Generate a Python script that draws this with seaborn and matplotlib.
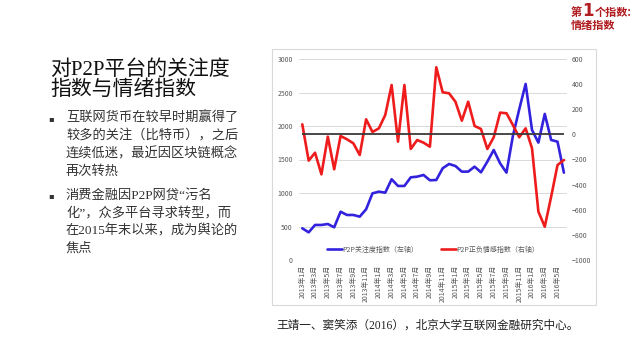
import numpy as np
import pandas as pd
import matplotlib.pyplot as plt
import seaborn as sns
from matplotlib.patches import Rectangle

# P2P attention index (left axis) and sentiment index (right axis), 2013/1 - 2016/6
years = [2013, 2014, 2015, 2016]
month_labels = [f"{y}年{m}月" for y in years for m in range(1, 13)][:42]

attention = [473, 413, 523, 523, 537, 488, 721, 672, 672, 647, 757, 995, 1020, 1005,
             1205, 1105, 1105, 1234, 1244, 1269, 1190, 1194, 1369, 1433, 1403, 1319,
             1319, 1393, 1309, 1468, 1642, 1443, 1304, 1850, 2250, 2628, 1941, 1752,
             2180, 1792, 1766, 1304]
sentiment = [80, -209, -146, -318, -18, -278, -13, -39, -71, -164, 120, 19, 48, 154,
             393, -58, 393, -116, -45, -66, -98, 534, 335, 327, 260, 109, 260, 67,
             43, -116, -23, 173, 168, 75, -23, 48, -111, -615, -735, -496, -244, -204]

left_ticks = [0, 500, 1000, 1500, 2000, 2500, 3000]
right_ticks = [-1000, -800, -600, -400, -200, 0, 200, 400, 600]

title_lines = ["对P2P平台的关注度", "指数与情绪指数"]
bullet1 = ["互联网货币在较早时期赢得了", "较多的关注（比特币），之后",
           "连续低迷，最近因区块链概念", "再次转热"]
bullet2 = ["消费金融因P2P网贷“污名", "化”，众多平台寻求转型，而",
           "在2015年末以来，成为舆论的", "焦点"]
source = "王靖一、窦笑添（2016），北京大学互联网金融研究中心。"
legend_labels = ["P2P关注度指数（左轴）", "P2P正负情感指数（右轴）"]

df = pd.DataFrame({"idx": np.arange(len(attention)), "attention": attention,
                   "sentiment": sentiment})

sns.set_theme(style="white")
plt.rcParams['font.family'] = ['Noto Sans CJK SC', 'DejaVu Sans']
serif = ['Liberation Serif', 'Noto Sans CJK SC']

W, H = 640, 357
fig = plt.figure(figsize=(6.4, 3.57), dpi=100)
fig.patch.set_facecolor('white')


def px(x, y):
    return x / W, 1 - y / H


# chart panel, kept behind the axes
fig.patches.append(Rectangle(px(272, 305), 324 / W, 256 / H, transform=fig.transFigure,
                             fc='white', ec='#d9d9d9', lw=0.8, zorder=-5))

ax1 = fig.add_axes([299.1 / W, 1 - 260 / H, 268 / W, 201 / H])
ax1.set_facecolor('none')
ax2 = ax1.twinx()
ax2.set_facecolor('none')

blue = '#3322dd'
red = '#ee1c1c'

sns.lineplot(data=df, x='idx', y='attention', ax=ax1, color=blue, lw=1.9,
             label=legend_labels[0], legend=False)
sns.lineplot(data=df, x='idx', y='sentiment', ax=ax2, color=red, lw=1.9,
             label=legend_labels[1], legend=False)
ax2.hlines(0, df['idx'].min(), df['idx'].max(), color='#3a3a3a', lw=1.3, zorder=3)

ax1.set_xlim(-0.5, len(attention) - 0.5)
ax1.set_ylim(0, 3000)
ax2.set_ylim(-1000, 600)
ax1.set_yticks(left_ticks)
ax2.set_yticks(right_ticks)
ax1.set_xticks(df['idx'][::2])
ax1.set_xticklabels(month_labels[::2], rotation=90, fontsize=5, color='#595959')
ax1.set_xlabel('')
ax1.set_ylabel('')
ax2.set_ylabel('')
ax1.tick_params(axis='y', labelsize=5, colors='#595959', length=0, pad=4.5)
ax2.tick_params(axis='y', labelsize=5, colors='#595959', length=0, pad=3.3)
ax1.tick_params(axis='x', length=0, pad=3.5)
ax1.yaxis.grid(True, color='#d9d9d9', lw=0.7)
ax1.xaxis.grid(False)
ax2.grid(False)
for ax in (ax1, ax2):
    for s in ax.spines.values():
        s.set_visible(False)

handles = ax1.get_lines()[:1] + ax2.get_lines()[:1]
ax2.legend(handles, legend_labels, loc='center', bbox_to_anchor=(0.5, 0.052), ncol=2,
           frameon=False, fontsize=5, handlelength=2.2, handletextpad=0.05,
           columnspacing=3.2, labelcolor='#595959')

# slide text
fig.text(*px(50, 70), title_lines[0], fontsize=15, family=serif, va='center', color='#111111')
fig.text(*px(50, 90), title_lines[1], fontsize=15, family=serif, va='center', color='#111111')

for lines, y0 in ((bullet1, 118.3), (bullet2, 195.5)):
    fig.text(*px(48, y0), '▪', fontsize=6, family='DejaVu Sans', va='center', color='#333333')
    for k, line in enumerate(lines):
        fig.text(*px(66, y0 + 17.8 * k), line, fontsize=9.5, family=serif, va='center',
                 color='#333333')

fig.text(*px(276, 326), source, fontsize=8.4, family=serif, va='center', color='#222222')

dark_red = '#b01c20'
fig.text(*px(571, 12.5), '第', fontsize=8, fontweight='bold', va='center', color=dark_red)
fig.text(*px(582, 10.5), '1', fontsize=12, fontweight='bold', family='DejaVu Sans',
         va='center', color=dark_red)
fig.text(*px(595, 12.5), '个指数:', fontsize=8, fontweight='bold', va='center', color=dark_red)
fig.text(*px(571, 25), '情绪指数', fontsize=8, fontweight='bold', va='center', color=dark_red)

plt.savefig('out.png', dpi=100)
plt.close()
